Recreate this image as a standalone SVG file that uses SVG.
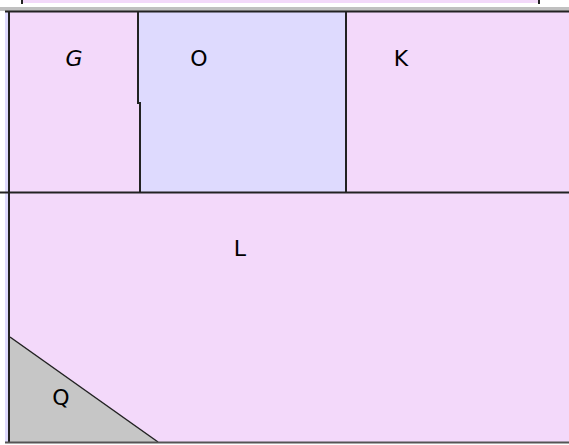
<svg xmlns="http://www.w3.org/2000/svg" width="569" height="445" viewBox="0 0 569 445">
<style>
.pink{fill:#f3d9fa}
.lav{fill:#dedafe}
.ln{stroke:#222;stroke-width:2;fill:none}
.lbl{font-family:"DejaVu Sans","Noto Sans",sans-serif;font-size:22px;fill:#000;text-anchor:middle}
</style>
<rect x="0" y="0" width="569" height="445" fill="#ffffff"/>
<rect x="23" y="0" width="515" height="3" class="pink"/>
<line x1="22" y1="0" x2="22" y2="4" stroke="#222" stroke-width="2"/>
<line x1="539" y1="0" x2="539" y2="4" stroke="#222" stroke-width="2"/>
<rect x="0" y="7" width="569" height="4" fill="#c0c0c0"/>
<rect x="5" y="12" width="4" height="430" class="lav"/>
<g id="G">
<rect x="10" y="12" width="130" height="181" class="pink"/>
<text x="74" y="66" class="lbl" font-style="italic">G</text>
</g>
<g id="O">
<rect x="139" y="12" width="207" height="181" class="lav"/>
<text x="199" y="66" class="lbl">O</text>
</g>
<g id="K">
<rect x="346" y="12" width="223" height="181" class="pink"/>
<text x="401" y="66" class="lbl">K</text>
</g>
<g id="L">
<rect x="10" y="193" width="559" height="249" class="pink"/>
<text x="240" y="256" class="lbl">L</text>
</g>
<g id="Q">
<polygon points="10,337 158,442 10,442" fill="#c6c6c6"/>
<line x1="10" y1="337" x2="158" y2="442" stroke="#222" stroke-width="1.5"/>
<text x="61" y="405" class="lbl">Q</text>
</g>
<g id="connectors">
<line x1="5" y1="11.5" x2="569" y2="11.5" class="ln"/>
<line x1="9" y1="11" x2="9" y2="442" class="ln"/>
<line x1="0" y1="192.5" x2="569" y2="192.5" class="ln"/>
<polyline points="138,12 138,103 140,103 140,192" class="ln"/>
<line x1="346" y1="12" x2="346" y2="192" class="ln"/>
<line x1="5" y1="442.5" x2="569" y2="442.5" stroke="#555" stroke-width="2"/>
</g>
</svg>
